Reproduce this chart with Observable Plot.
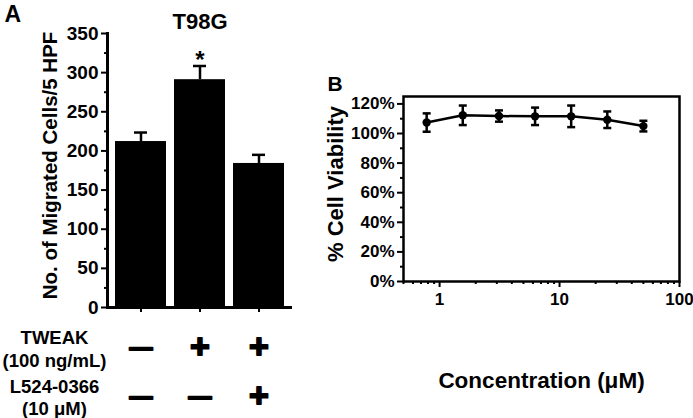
<!DOCTYPE html>
<html><head><meta charset="utf-8">
<script src="https://cdn.jsdelivr.net/npm/d3@7"></script>
<script src="https://cdn.jsdelivr.net/npm/@observablehq/plot@0.6"></script>
<style>
body{margin:0;background:#fff;}
#wrap{position:relative;width:693px;height:418px;overflow:hidden;background:#fff;}
#a{position:absolute;left:0;top:0;width:300px;height:418px;}
#b{position:absolute;left:300px;top:0;width:393px;height:418px;}
</style></head><body><div id="wrap"><div id="a"></div><div id="b"></div></div>
<script>
// ---- Panel A data ----
const groups = ["Control", "TWEAK", "TWEAK + L524-0366"];
const migrated = [212, 291, 184];
const migratedErr = [11.5, 17.5, 11];
const significance = ["", "*", ""];
const tweakSigns = ["—", "+", "+"];
const inhibitorSigns = ["—", "—", "+"];
const countTicks = [0, 50, 100, 150, 200, 250, 300, 350];
const countMinorTicks = [25, 75, 125, 175, 225, 275, 325];

// ---- Panel B data ----
const concentrations = [0.78, 1.56, 3.125, 6.25, 12.5, 25, 50];
const viability = [107.4, 112.3, 111.8, 111.6, 111.6, 109.3, 105];
const viabilityErr = [6.2, 6.6, 3.8, 5.9, 7.3, 5.6, 3.6];
const viabilityTicks = [0, 20, 40, 60, 80, 100, 120];
const viabilityMinorTicks = [10, 30, 50, 70, 90, 110];
const concTicks = [1, 10, 100];
const concMinorTicks = [0.5, 0.6, 0.7, 0.8, 0.9, 2, 3, 4, 5, 6, 7, 8, 9, 20, 30, 40, 50, 60, 70, 80, 90];

const FONT = "'Liberation Sans', Arial, Helvetica, sans-serif";

const barData = groups.map((g, i) => ({
  group: g, value: migrated[i], hi: migrated[i] + migratedErr[i],
  sig: significance[i], tweak: tweakSigns[i], inh: inhibitorSigns[i]
}));

const signSize = (s) => s === "+" ? 34 : 23;

const plotA = Plot.plot({
  width: 300, height: 418,
  marginLeft: 107, marginRight: 8, marginTop: 33, marginBottom: 111,
  style: {fontFamily: FONT, fontWeight: "bold", fontSize: "19px", color: "#000", background: "#fff"},
  x: {domain: groups, padding: 0.13},
  y: {domain: [0, 350]},
  marks: [
    Plot.ruleX(barData, {x: "group", y1: "value", y2: "hi", stroke: "#000", strokeWidth: 2.5}),
    Plot.tickY(barData, {x: "group", y: "hi", stroke: "#000", strokeWidth: 2.5, insetLeft: 19, insetRight: 19}),
    Plot.barY(barData, {x: "group", y: "value", fill: "#000"}),
    Plot.axisY({ticks: countTicks, tickSize: 6, tickPadding: 3, strokeWidth: 2, label: null, fontSize: 19}),
    Plot.axisY({ticks: countMinorTicks, tickSize: 3, strokeWidth: 2, tickFormat: () => "", label: null}),
    Plot.axisX({tickSize: 5, strokeWidth: 2, tickFormat: () => "", label: null}),
    Plot.frame({anchor: "left", stroke: "#000", strokeWidth: 3}),
    Plot.ruleY([0], {stroke: "#000", strokeWidth: 3}),
    Plot.text(barData, {x: "group", y: "hi", text: "sig", dy: 2, lineAnchor: "bottom", fontSize: 24}),
    Plot.text(barData, {x: "group", text: "tweak", frameAnchor: "bottom", dy: 40, lineAnchor: "middle", fontSize: (d) => signSize(d.tweak), fill: "#000", stroke: "#000", strokeWidth: 1.8}),
    Plot.text(barData, {x: "group", text: "inh", frameAnchor: "bottom", dy: 89, lineAnchor: "middle", fontSize: (d) => signSize(d.inh), fill: "#000", stroke: "#000", strokeWidth: 1.8}),
    Plot.text(["TWEAK\n(100 ng/mL)"], {frameAnchor: "bottom-left", textAnchor: "middle", dx: -53, dy: 20.5, lineAnchor: "top", lineHeight: 1.22, fontSize: 18.5}),
    Plot.text(["L524-0366\n(10 μM)"], {frameAnchor: "bottom-left", textAnchor: "middle", dx: -53, dy: 70, lineAnchor: "top", lineHeight: 1.2, fontSize: 18.5}),
    Plot.text(["No. of Migrated Cells/5 HPF"], {frameAnchor: "left", textAnchor: "middle", rotate: -90, dx: -57, dy: -5, fontSize: 20.5}),
    Plot.text(["T98G"], {frameAnchor: "top", dy: -5, lineAnchor: "bottom", fontSize: 22}),
    Plot.text(["A"], {frameAnchor: "top-left", textAnchor: "start", dx: -103, dy: -12, lineAnchor: "bottom", fontSize: 23})
  ]
});
document.getElementById("a").append(plotA);

const viaData = concentrations.map((c, i) => ({
  conc: c, v: viability[i], lo: viability[i] - viabilityErr[i], hi: viability[i] + viabilityErr[i]
}));

const capSymbol = {
  draw(context, size) {
    const w = Math.sqrt(size / Math.PI);
    context.moveTo(-w, 0);
    context.lineTo(w, 0);
  }
};

const plotB = Plot.plot({
  width: 393, height: 418,
  marginLeft: 103, marginRight: 14, marginTop: 96, marginBottom: 137,
  style: {fontFamily: FONT, fontWeight: "bold", fontSize: "17px", color: "#000", background: "#fff"},
  x: {type: "log", domain: [0.5, 100]},
  y: {domain: [0, 125]},
  marks: [
    Plot.axisY({ticks: viabilityTicks, tickSize: 6, tickPadding: 3, strokeWidth: 2, tickFormat: d => d + "%", label: null, fontSize: 17}),
    Plot.axisY({ticks: viabilityMinorTicks, tickSize: 3, strokeWidth: 2, tickFormat: () => "", label: null}),
    Plot.axisX({ticks: concTicks, tickSize: 6, tickPadding: 5, strokeWidth: 2, tickFormat: d3.format("~"), label: null, fontSize: 17}),
    Plot.axisX({ticks: concMinorTicks, tickSize: 3, strokeWidth: 2, tickFormat: () => "", label: null}),
    Plot.frame({stroke: "#000", strokeWidth: 2.5}),
    Plot.ruleX(viaData, {x: "conc", y1: "lo", y2: "hi", stroke: "#000", strokeWidth: 2.5}),
    Plot.dot(viaData, {x: "conc", y: "lo", symbol: capSymbol, r: 4, fill: "none", stroke: "#000", strokeWidth: 2.5}),
    Plot.dot(viaData, {x: "conc", y: "hi", symbol: capSymbol, r: 4, fill: "none", stroke: "#000", strokeWidth: 2.5}),
    Plot.line(viaData, {x: "conc", y: "v", stroke: "#000", strokeWidth: 2.5}),
    Plot.dot(viaData, {x: "conc", y: "v", r: 4.2, fill: "#000"}),
    Plot.text(["% Cell Viability"], {frameAnchor: "left", textAnchor: "middle", rotate: -90, dx: -68, dy: -5, fontSize: 22}),
    Plot.text(["Concentration (μM)"], {frameAnchor: "bottom", dy: 91, lineAnchor: "top", fontSize: 22.5}),
    Plot.text(["B"], {frameAnchor: "top-left", textAnchor: "start", dx: -76, dy: -6, lineAnchor: "bottom", fontSize: 21})
  ]
});
document.getElementById("b").append(plotB);
</script>
</body></html>
